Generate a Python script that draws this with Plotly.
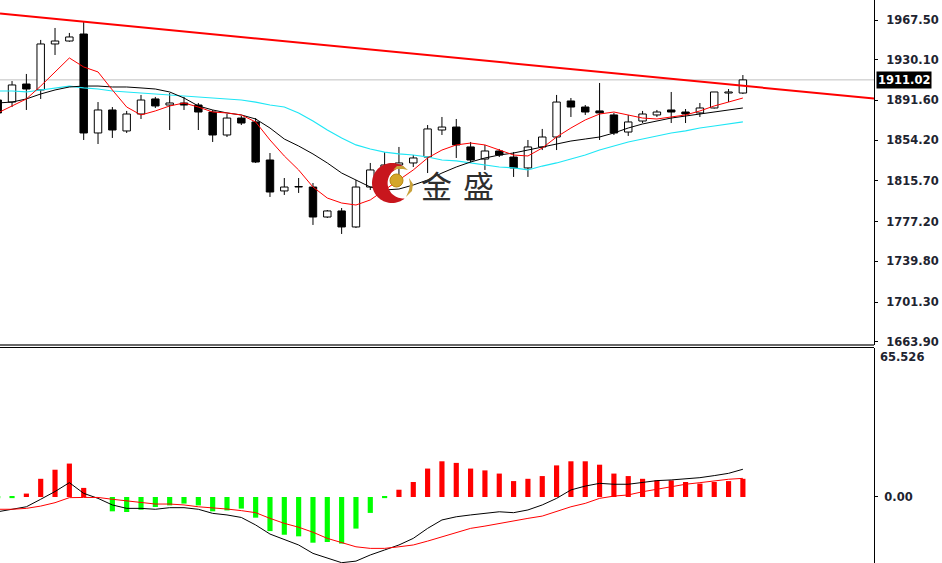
import math
import plotly.graph_objects as go

# ---------------- data ----------------
bar_index = list(range(-1, 52))

open_ = [1892.0, 1890.1, 1907.1, 1901.5, 1944.9, 1947.7, 1954.3, 1860.9, 1882.6, 1862.8,
         1878.8, 1893.0, 1887.3, 1889.2, 1887.3, 1880.7, 1859.0, 1875.0, 1871.3, 1835.4,
         1806.2, 1809.9, 1809.9, 1781.6, 1787.3, 1772.2, 1809.9, 1826.0, 1830.7, 1832.6,
         1838.2, 1863.7, 1866.5, 1847.7, 1836.3, 1843.9, 1838.2, 1827.9, 1847.7, 1857.1,
         1891.1, 1885.4, 1881.7, 1877.9, 1861.8, 1872.2, 1877.9, 1882.6, 1880.7, 1879.8,
         1884.5, 1898.6, 1898.6]
high = [1894.9, 1909.9, 1916.6, 1948.7, 1960.0, 1955.3, 1965.6, 1890.1, 1885.4, 1881.7,
        1896.8, 1894.9, 1898.6, 1894.9, 1889.2, 1882.6, 1878.8, 1876.9, 1875.0, 1842.0,
        1818.4, 1818.4, 1813.7, 1788.2, 1790.1, 1816.5, 1832.6, 1842.9, 1847.7, 1840.1,
        1868.4, 1876.0, 1874.1, 1852.4, 1849.6, 1845.8, 1842.9, 1854.3, 1864.7, 1896.8,
        1893.9, 1887.3, 1908.1, 1879.8, 1877.9, 1881.7, 1882.6, 1899.6, 1883.5, 1889.2,
        1899.6, 1902.4, 1915.6]
low = [1876.9, 1885.4, 1882.6, 1893.0, 1934.5, 1947.0, 1854.3, 1850.5, 1856.2, 1860.9,
       1874.1, 1884.5, 1863.7, 1882.6, 1863.7, 1852.4, 1857.1, 1868.4, 1832.6, 1800.5,
       1802.4, 1804.3, 1774.1, 1780.7, 1765.6, 1771.2, 1807.1, 1814.6, 1819.4, 1828.8,
       1823.1, 1859.0, 1837.3, 1832.6, 1826.0, 1838.2, 1819.4, 1819.4, 1844.8, 1844.8,
       1876.0, 1877.9, 1854.3, 1859.0, 1858.1, 1870.3, 1876.0, 1870.3, 1870.3, 1876.0,
       1884.0, 1890.1, 1897.7]
close = [1879.8, 1906.2, 1902.4, 1944.9, 1947.7, 1951.5, 1860.9, 1882.6, 1863.7, 1878.8,
         1892.0, 1886.4, 1889.2, 1887.3, 1880.7, 1859.0, 1875.0, 1870.3, 1833.5, 1805.2,
         1809.9, 1810.4, 1781.6, 1787.3, 1772.2, 1809.9, 1826.0, 1830.7, 1832.6, 1837.3,
         1864.7, 1866.5, 1849.6, 1835.4, 1843.9, 1840.1, 1827.9, 1847.7, 1857.1, 1890.1,
         1885.4, 1880.7, 1879.8, 1860.9, 1871.3, 1878.8, 1880.7, 1880.7, 1878.8, 1884.5,
         1899.6, 1899.6, 1911.0]

ma_fast = [1879.8, 1886.4, 1893.0, 1905.2, 1918.5, 1931.7, 1923.2, 1918.5, 1901.5, 1885.4,
           1877.9, 1881.7, 1886.4, 1889.2, 1885.4, 1880.7, 1879.8, 1877.9, 1871.3, 1854.3,
           1839.2, 1826.0, 1809.9, 1799.5, 1794.8, 1792.9, 1797.7, 1807.1, 1816.5, 1826.0,
           1837.3, 1844.8, 1849.6, 1851.4, 1849.6, 1844.8, 1840.1, 1839.2, 1846.7, 1857.1,
           1865.6, 1873.2, 1878.8, 1880.7, 1877.9, 1875.0, 1874.1, 1876.0, 1877.9, 1881.7,
           1886.4, 1890.1, 1893.9]
ma_mid = [1889.2, 1890.1, 1893.0, 1897.7, 1901.5, 1904.3, 1905.2, 1905.2, 1904.3, 1904.3,
          1903.4, 1902.4, 1899.6, 1893.9, 1886.4, 1882.6, 1879.8, 1877.9, 1874.1, 1865.6,
          1855.2, 1848.6, 1841.1, 1832.6, 1823.1, 1816.5, 1809.9, 1807.1, 1808.0, 1811.8,
          1816.5, 1823.1, 1828.8, 1833.5, 1837.3, 1840.1, 1842.0, 1844.8, 1847.7, 1850.5,
          1853.3, 1855.2, 1857.1, 1860.9, 1865.6, 1869.4, 1872.2, 1875.0, 1876.9, 1878.8,
          1880.7, 1882.6, 1884.5]
ma_slow = [1900.5, 1900.5, 1899.6, 1901.5, 1903.4, 1905.2, 1903.4, 1902.4, 1900.5, 1899.6,
           1898.6, 1897.7, 1896.8, 1895.8, 1894.9, 1893.9, 1893.0, 1892.0, 1890.1, 1887.3,
           1885.4, 1879.8, 1872.2, 1863.7, 1856.2, 1849.6, 1845.8, 1842.9, 1841.1, 1840.1,
           1838.2, 1835.4, 1834.5, 1832.6, 1830.7, 1828.8, 1827.9, 1826.0, 1829.7, 1832.6,
           1836.3, 1840.1, 1844.8, 1848.6, 1852.4, 1855.2, 1858.1, 1860.9, 1862.8, 1865.6,
           1867.5, 1869.4, 1871.3]

trend_x = [-0.84, 60.15]
trend_y = [1973.7, 1893.4]
last_price = 1911.02

macd_hist = [-0.5, -0.5, 1.5, 8.0, 12.0, 14.7, 4.0, 0.0, -6.3, -6.6,
             -5.6, -4.4, -3.7, -2.9, -3.7, -6.3, -5.9, -5.1, -9.1, -15.0,
             -16.6, -17.3, -20.1, -19.8, -20.5, -13.9, -7.0, -0.5, 3.2, 6.6,
             12.5, 15.7, 15.0, 12.5, 11.7, 10.3, 7.0, 8.0, 9.2, 13.9,
             15.7, 15.7, 14.2, 10.3, 9.2, 8.0, 7.3, 7.3, 6.6, 5.9,
             6.6, 7.0, 8.0]
macd_line = [-6.5, -5.3, -4.3, -1.0, 2.4, 6.3, 1.6, -0.6, -3.5, -5.0,
             -5.0, -5.4, -4.7, -4.7, -5.4, -7.2, -7.9, -9.0, -12.3, -16.3,
             -18.6, -21.1, -24.8, -27.0, -28.9, -28.2, -25.5, -23.3, -21.1, -18.2,
             -13.8, -10.1, -8.7, -7.9, -7.2, -6.5, -6.9, -5.7, -3.5, -0.6,
             3.1, 4.8, 6.0, 5.6, 5.6, 6.3, 7.2, 7.5, 7.9, 8.5,
             9.4, 10.4, 12.2]
macd_signal = [-5.4, -5.4, -5.0, -4.0, -2.5, -0.3, -0.2, -0.2, -1.0, -1.8,
               -2.3, -3.1, -3.1, -3.5, -4.3, -4.7, -5.3, -6.0, -6.9, -9.4,
               -11.6, -13.3, -15.5, -18.2, -20.1, -21.9, -22.6, -22.6, -21.9, -21.1,
               -19.4, -17.5, -15.7, -13.8, -12.8, -11.6, -10.6, -9.4, -8.4, -6.5,
               -4.3, -2.8, -0.6, 0.4, 0.9, 2.3, 3.4, 4.5, 5.6, 6.3,
               7.2, 7.8, 8.2]

price_ticks = [1967.50, 1930.10, 1891.60, 1854.20, 1815.70, 1777.20, 1739.80, 1701.30, 1663.90]
price_tick_text = ["1967.50", "1930.10", "1891.60", "1854.20", "1815.70",
                   "1777.20", "1739.80", "1701.30", "1663.90"]
macd_max_label = "65.526"
macd_zero_label = "0.00"
logo_text = ["金", "盛"]

# ---------------- figure ----------------
W, H = 942, 563
PLOT_W = 874
X_RANGE = [-0.84, 60.15]
PRICE_RANGE = [1660.8, 1986.4]
MACD_RANGE = [-29.03, 65.526]

fig = go.Figure()

# wicks (split so they do not cross the bodies)
wx, wy = [], []
for i, o, h, l, c in zip(bar_index, open_, high, low, close):
    top, bot = max(o, c), min(o, c)
    wx += [i, i, None, i, i, None]
    wy += [h, top, None, bot, l, None]
fig.add_trace(go.Scatter(x=wx, y=wy, mode="lines", line=dict(color="black", width=1),
                         hoverinfo="skip", xaxis="x", yaxis="y"))

body_colors = ["white" if c >= o else "black" for o, c in zip(open_, close)]
fig.add_trace(go.Bar(x=bar_index, y=[c - o for o, c in zip(open_, close)], base=open_,
                     width=0.52, marker=dict(color=body_colors, line=dict(color="black", width=1)),
                     xaxis="x", yaxis="y"))

fig.add_trace(go.Scatter(x=bar_index, y=ma_slow, mode="lines",
                         line=dict(color="#1ee6f5", width=1.2), xaxis="x", yaxis="y"))
fig.add_trace(go.Scatter(x=bar_index, y=ma_mid, mode="lines",
                         line=dict(color="black", width=1), xaxis="x", yaxis="y"))
fig.add_trace(go.Scatter(x=bar_index, y=ma_fast, mode="lines",
                         line=dict(color="#ff0000", width=1), xaxis="x", yaxis="y"))
fig.add_trace(go.Scatter(x=trend_x, y=trend_y, mode="lines",
                         line=dict(color="#ff0000", width=2), xaxis="x", yaxis="y"))

# MACD panel
hist_colors = ["#ff0000" if v >= 0 else "#00ff00" for v in macd_hist]
fig.add_trace(go.Bar(x=bar_index, y=macd_hist, width=0.36,
                     marker=dict(color=hist_colors, line=dict(width=0)),
                     xaxis="x2", yaxis="y2"))
fig.add_trace(go.Scatter(x=bar_index, y=macd_line, mode="lines",
                         line=dict(color="black", width=1), xaxis="x2", yaxis="y2"))
fig.add_trace(go.Scatter(x=bar_index, y=macd_signal, mode="lines",
                         line=dict(color="#ff0000", width=1), xaxis="x2", yaxis="y2"))

axis_font = dict(family="DejaVu Sans", size=11.5, color="#1e2430", weight="bold")

main_bottom = 1 - 345 / H
macd_top = 1 - 348 / H

fig.update_layout(
    width=W, height=H, autosize=False,
    margin=dict(l=0, r=W - PLOT_W, t=0, b=0, pad=0, autoexpand=False),
    paper_bgcolor="white", plot_bgcolor="white",
    showlegend=False, barmode="overlay",
    xaxis=dict(domain=[0, 1], range=X_RANGE, anchor="y", visible=False, automargin=False),
    xaxis2=dict(domain=[0, 1], range=X_RANGE, anchor="y2", visible=False, matches="x",
                automargin=False),
    yaxis=dict(domain=[main_bottom, 1], range=PRICE_RANGE, side="right", anchor="x",
               tickmode="array", tickvals=price_ticks, ticktext=price_tick_text,
               ticks="outside", ticklen=3, tickcolor="black", ticklabelstandoff=6,
               showline=True, linecolor="black", linewidth=1, showgrid=False,
               zeroline=False, tickfont=axis_font, automargin=False),
    yaxis2=dict(domain=[0, macd_top], range=MACD_RANGE, side="right", anchor="x2",
                tickmode="array", tickvals=[0], ticktext=[macd_zero_label],
                ticks="outside", ticklen=3, tickcolor="black", ticklabelstandoff=4,
                showline=True, linecolor="black", linewidth=1, showgrid=False,
                zeroline=False, tickfont=axis_font, automargin=False),
)

shapes = []
# last price line
shapes.append(dict(type="line", xref="paper", yref="y", x0=0, x1=1, y0=last_price, y1=last_price,
                   line=dict(color="#c0c0c0", width=1), layer="below"))
# panel separator
shapes.append(dict(type="line", xref="paper", yref="paper", x0=0, x1=1,
                   y0=1 - 345 / H, y1=1 - 345 / H, line=dict(color="#6a6a6a", width=2)))
shapes.append(dict(type="line", xref="paper", yref="paper", x0=0, x1=1,
                   y0=1 - 347.5 / H, y1=1 - 347.5 / H, line=dict(color="black", width=1)))


# logo (decorative watermark) built in pixel space
def P(px, py):
    return px / PLOT_W, 1 - py / H


def poly(points):
    s = ""
    for k, (px, py) in enumerate(points):
        x, y = P(px, py)
        s += ("M" if k == 0 else " L") + f" {x:.5f} {y:.5f}"
    return s + " Z"


cx, cy, R = 392, 183, 20
icx, ir = 403, 15.4
outer = [(cx + R * math.cos(math.radians(a)), cy - R * math.sin(math.radians(a)))
         for a in [50 + k * 5 for k in range(53)]]
inner = [(icx + ir * math.cos(math.radians(a)), cy - ir * math.sin(math.radians(a)))
         for a in [277 - k * 194 / 40 for k in range(41)]]
shapes.append(dict(type="path", xref="paper", yref="paper", path=poly(outer + inner),
                   fillcolor="#c8161d", line=dict(width=0), layer="above"))
# gold ball
bx0, by0 = P(390, 174)
bx1, by1 = P(403, 187)
shapes.append(dict(type="circle", xref="paper", yref="paper", x0=bx0, x1=bx1, y0=by1, y1=by0,
                   fillcolor="#d4a62a", line=dict(color="#b8860b", width=1), layer="above"))
# gold arcs
arc1 = [(393, 170), (397, 166), (403, 166), (408, 170), (403, 169), (397, 169)]
arc2 = [(409, 178), (413, 184), (412, 191), (406, 197), (409, 190), (410, 184)]
shapes.append(dict(type="path", xref="paper", yref="paper", path=poly(arc1),
                   fillcolor="#c9a23a", line=dict(width=0), layer="above"))
shapes.append(dict(type="path", xref="paper", yref="paper", path=poly(arc2),
                   fillcolor="#c9a23a", line=dict(width=0), layer="above"))
fig.update_layout(shapes=shapes)

annotations = []
for ch, px in zip(logo_text, [436.5, 478.5]):
    x, y = P(px, 184)
    annotations.append(dict(xref="paper", yref="paper", x=x, y=y, text=ch, showarrow=False,
                            xanchor="center", yanchor="middle",
                            font=dict(family="Noto Sans CJK SC", size=31, color="#2e2e2e")))
annotations.append(dict(xref="paper", yref="y", x=1, y=last_price, text=f"{last_price:.2f}",
                        showarrow=False, xanchor="left", yanchor="middle", xshift=2,
                        bgcolor="black", borderpad=1,
                        font=dict(family="DejaVu Sans", size=11.5, color="white", weight="bold")))
annotations.append(dict(xref="paper", yref="paper", x=1, y=macd_top, text=macd_max_label,
                        showarrow=False, xanchor="left", yanchor="top", xshift=4, yshift=0,
                        font=axis_font))
fig.update_layout(annotations=annotations)

fig.write_html("out.html", config={"displayModeBar": False},
               post_script="document.body.style.margin='0';document.body.style.padding='0';")
